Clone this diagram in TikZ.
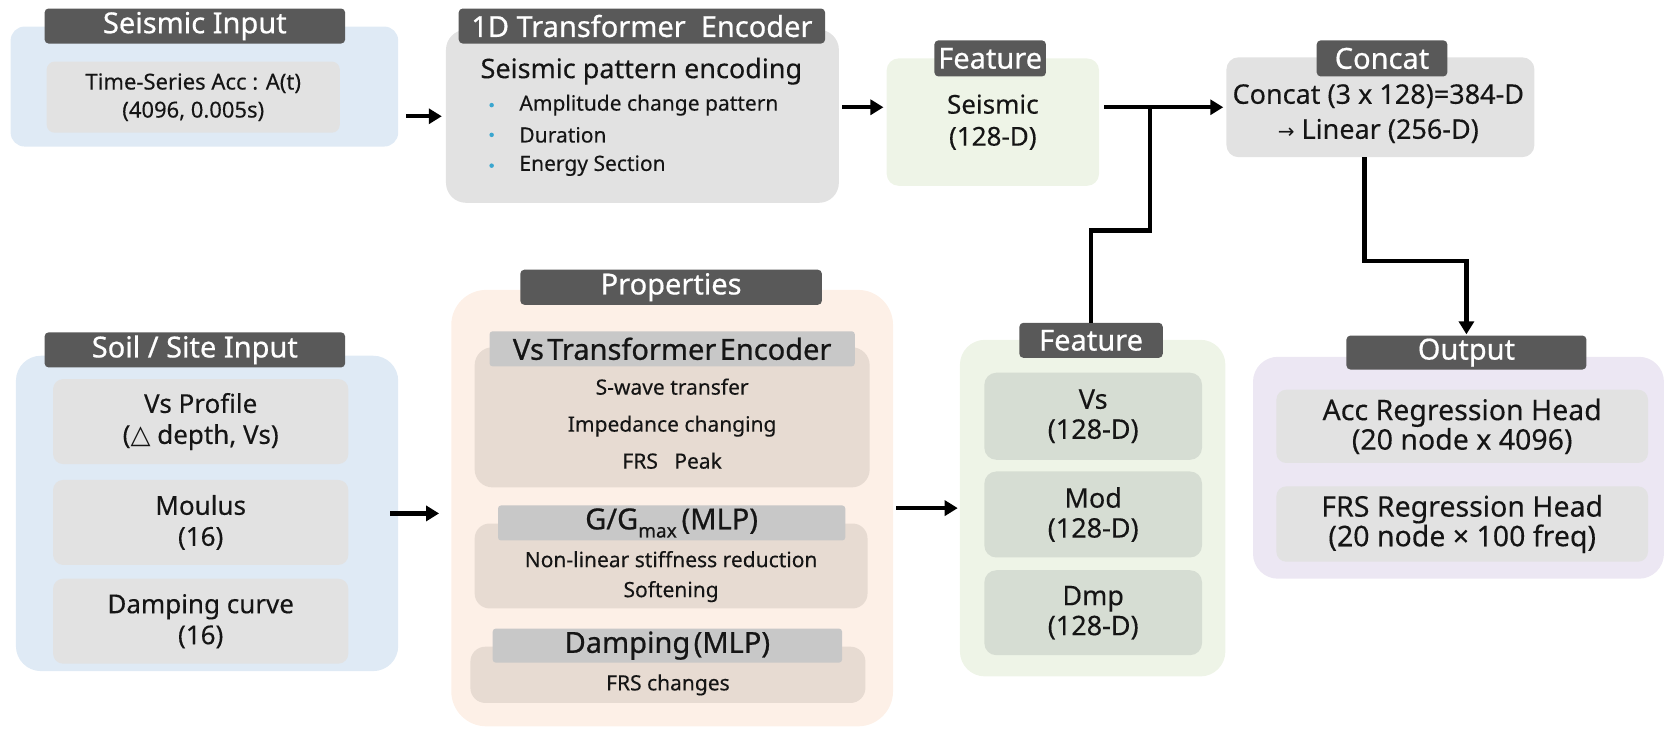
\documentclass[tikz,border=0pt]{standalone}
\usepackage{fontspec}
\setmainfont{Noto Sans}
\newfontfamily\tightf{Noto Sans}[WordSpace=0.45, FakeBold=0.25]
\newfontfamily\bodyf{Noto Sans}[FakeBold=0.25]
\newfontfamily\medf{Noto Sans}[FakeBold=0.6]
\newfontfamily\medtightf{Noto Sans}[FakeBold=0.7, WordSpace=0.45]
\newfontfamily\symfont{DejaVu Sans}
\usetikzlibrary{arrows.meta,fit,calc}

\definecolor{hdr}{HTML}{595959}
\definecolor{skyfill}{HTML}{DFEAF5}
\definecolor{greyfill}{HTML}{E2E2E2}
\definecolor{leaf}{HTML}{EEF4E7}
\definecolor{leafin}{HTML}{D6DDD3}
\definecolor{peach}{HTML}{FDF0E7}
\definecolor{sand}{HTML}{E7DBD2}
\definecolor{stripc}{HTML}{C8C8C8}
\definecolor{lilac}{HTML}{ECE7F3}
\definecolor{dotc}{HTML}{3AA6CF}
\definecolor{ink}{HTML}{151515}

\newcommand{\setfs}[2]{\fontsize{#1}{#2}\selectfont}

\tikzset{
  panel/.style={fill=#1, draw=none, inner sep=0pt},
  hdrbox/.style={fill=hdr, draw=none, rounded corners=4pt, inner sep=0pt},
  hdrtext/.style={text=white, inner sep=0pt, font=\medf\setfs{29}{32}},
  stripbox/.style={fill=stripc, draw=none, rounded corners=3pt, inner sep=0pt},
  striptext/.style={text=ink, inner sep=0pt, font=\medtightf\setfs{29}{32}},
  bodytext/.style={text=ink, align=center, inner sep=0pt},
  bulletdot/.style={circle, fill=dotc, draw=none, inner sep=0pt, minimum size=4.5pt},
  conn/.style={line width=4.2pt, draw=black},
  arr/.style={conn, -{Triangle[length=13pt,width=15pt]}},
}

\begin{document}
\begin{tikzpicture}[x=1.0619pt, y=-1.0619pt]
\useasboundingbox (0,0) rectangle (1568,686);

% ---------- seismic input ----------
\node[panel=skyfill, rounded corners=14pt, fit={(10,25)(375,138)}] (si) {};
\node[panel=greyfill, rounded corners=8pt, fit={(44,58)(320,125)}] (sii) {};
\node[bodytext, font=\tightf\setfs{22}{28}] (siit) at (sii.center)
      {Time-Series Acc : A(t)\\(4096, 0.005s)};
\node[hdrbox, fit={(42,8)(325,41)}] (sih) {};
\node[hdrtext] (siht) at (sih.center) {Seismic Input};

% ---------- 1D transformer encoder ----------
\node[panel=greyfill, rounded corners=20pt, fit={(420,28)(790,191)}] (te) {};
\node[hdrbox, fit={(432,8)(777,41)}] (teh) {};
\node[hdrtext] (teht) at (teh.center) {1D Transformer\ \ Encoder};
\node[bodytext, font=\tightf\setfs{27}{30}] (tet) at (604,67) {Seismic pattern encoding};
\node[bulletdot] (d1) at (463,99) {};
\node[bulletdot] (d2) at (463,127) {};
\node[bulletdot] (d3) at (463,156) {};
\node[bodytext, anchor=west, font=\bodyf\setfs{21}{25}] (b1) at (489,99) {Amplitude change pattern};
\node[bodytext, anchor=west, font=\bodyf\setfs{21}{25}] (b2) at (489,127) {Duration};
\node[bodytext, anchor=west, font=\bodyf\setfs{21}{25}] (b3) at (489,156) {Energy Section};

% ---------- seismic feature ----------
\node[panel=leaf, rounded corners=12pt, fit={(835,55)(1035,175)}] (f1) {};
\node[bodytext, font=\tightf\setfs{26}{32}] (f1t) at (935,115) {Seismic\\(128-D)};
\node[hdrbox, fit={(880,38)(985,72)}] (f1h) {};
\node[hdrtext] (f1ht) at (f1h.center) {Feature};

% ---------- concat ----------
\node[panel=greyfill, rounded corners=12pt, fit={(1155,54)(1445,148)}] (cc) {};
\node[bodytext, font=\tightf\setfs{27}{35}] (cct) at (1298,107)
      {Concat (3 x 128)=384-D\\{\symfont\setfs{20}{35}→} Linear (256-D)};
\node[hdrbox, fit={(1240,38)(1363,72)}] (cch) {};
\node[hdrtext] (ccht) at (cch.center) {Concat};

% ---------- soil / site input ----------
\node[panel=skyfill, rounded corners=25pt, fit={(15,335)(375,632)}] (soil) {};
\node[panel=greyfill, rounded corners=10pt, fit={(50,357)(328,437)}] (vsp) {};
\node[panel=greyfill, rounded corners=10pt, fit={(50,452)(328,532)}] (mdl) {};
\node[panel=greyfill, rounded corners=10pt, fit={(50,545)(328,625)}] (dcv) {};
\node[bodytext, font=\tightf\setfs{26}{31}] (vspt) at (vsp.center) {Vs Profile\\({\symfont △} depth, Vs)};
\node[bodytext, font=\tightf\setfs{26}{31}] (mdlt) at (mdl.center) {Moulus\\(16)};
\node[bodytext, font=\tightf\setfs{26}{31}] (dcvt) at (dcv.center) {Damping curve\\(16)};
\node[hdrbox, fit={(42,313)(325,346)}] (soilh) {};
\node[hdrtext] (soilht) at (soilh.center) {Soil / Site Input};

% ---------- properties ----------
\node[panel=peach, rounded corners=35pt, fit={(425,273)(841,684)}] (prop) {};
\node[hdrbox, fit={(490,254)(774,287)}] (proph) {};
\node[hdrtext] (propht) at (proph.center) {Properties};

\node[panel=sand, rounded corners=18pt, fit={(447,327)(819,459)}] (vse) {};
\node[stripbox, fit={(461,312)(805,345)}] (vseh) {};
\node[striptext] (vseht) at (vseh.center) {Vs Transformer Encoder};
\node[bodytext, font=\tightf\setfs{21}{37}] (vset) at (633,399)
      {S-wave transfer\\Impedance changing\\FRS\ \ \ Peak};

\node[panel=sand, rounded corners=15pt, fit={(447,493)(817,573)}] (ggm) {};
\node[stripbox, fit={(469,476)(796,509)}] (ggmh) {};
\node[striptext] (ggmht) at (ggmh.center)
      {G/G\raisebox{-0.28em}{\setfs{19}{20}max}\,(MLP)};
\node[bodytext, font=\tightf\setfs{21}{30}] (ggmt) at (632,543)
      {Non-linear stiffness reduction\\Softening};

\node[panel=sand, rounded corners=15pt, fit={(443,609)(815,662)}] (dmp) {};
\node[stripbox, fit={(464,592)(793,624)}] (dmph) {};
\node[striptext] (dmpht) at (dmph.center) {Damping (MLP)};
\node[bodytext, font=\tightf\setfs{21}{25}] (dmpt) at (629,645) {FRS changes};

% ---------- site features ----------
\node[panel=leaf, rounded corners=25pt, fit={(904,320)(1154,637)}] (f2) {};
\node[panel=leafin, rounded corners=12pt, fit={(927,351)(1132,433)}] (fvs) {};
\node[panel=leafin, rounded corners=12pt, fit={(927,444)(1132,525)}] (fmd) {};
\node[panel=leafin, rounded corners=12pt, fit={(927,537)(1132,617)}] (fdp) {};
\node[bodytext, font=\tightf\setfs{27}{30}] (fvst) at (fvs.center) {Vs\\(128-D)};
\node[bodytext, font=\tightf\setfs{27}{30}] (fmdt) at (fmd.center) {Mod\\(128-D)};
\node[bodytext, font=\tightf\setfs{27}{30}] (fdpt) at (fdp.center) {Dmp\\(128-D)};
\node[hdrbox, fit={(960,304)(1095,337)}] (f2h) {};
\node[hdrtext] (f2ht) at (f2h.center) {Feature};

% ---------- output ----------
\node[panel=lilac, rounded corners=25pt, fit={(1180,336)(1567,545)}] (out) {};
\node[panel=greyfill, rounded corners=10pt, fit={(1202,367)(1552,436)}] (acc) {};
\node[panel=greyfill, rounded corners=10pt, fit={(1202,458)(1552,529)}] (frs) {};
\node[bodytext, font=\tightf\setfs{28.5}{27}] (acct) at (acc.center) {Acc Regression Head\\(20 node x 4096)};
\node[bodytext, font=\tightf\setfs{28.5}{28.5}] (frst) at (frs.center) {FRS Regression Head\\(20 node × 100 freq)};
\node[hdrbox, fit={(1268,316)(1494,348)}] (outh) {};
\node[hdrtext] (outht) at (outh.center) {Output};

% ---------- connectors ----------
\coordinate (jn) at (1083,217);
\coordinate (k2) at (1285,246);

\draw[arr, shorten <=8pt, shorten >=4pt] (si.east |- te.west) -- (te.west);
\draw[arr, shorten <=3pt, shorten >=3pt] (te.east |- cc.west) -- (f1.west |- cc.west);
\draw[arr, shorten <=5pt, shorten >=3pt] (f1.east |- cc.west) -- (cc.west);
\draw[conn] (f2h.north) |- (jn) -- (jn |- cc.west);
\draw[arr, shorten >=1pt] (k2 |- cc.south) -- (k2) -| (outh.north);
\draw[arr, shorten <=-8pt, shorten >=12pt] (soil.east) -- (prop.west |- soil.east);
\draw[arr, shorten <=3pt, shorten >=2pt] (prop.east) -- (f2.west |- prop.east);
\end{tikzpicture}
\end{document}
